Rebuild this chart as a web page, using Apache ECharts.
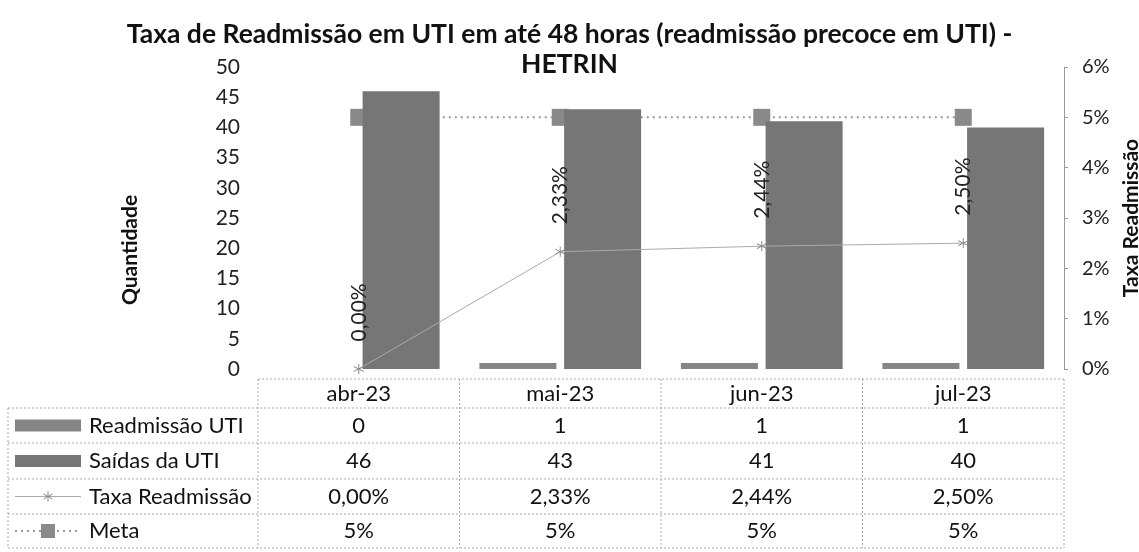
<!DOCTYPE html>
<html>
<head>
<meta charset="utf-8">
<script src="https://cdn.jsdelivr.net/npm/echarts@6/dist/echarts.min.js"></script>
<style>
  html, body { margin: 0; padding: 0; background: #fff; }
  #chart { width: 1139px; height: 552px; }
</style>
</head>
<body>
<div id="chart"></div>
<script>
// dados do gráfico
const categories = ['abr-23', 'mai-23', 'jun-23', 'jul-23'];
const readmissao = [0, 1, 1, 1];
const saidas = [46, 43, 41, 40];
const taxa = [0, 2.33, 2.44, 2.50];   // em %
const meta = [5, 5, 5, 5];            // em %

const FONT = 'Lato, "Open Sans", sans-serif';
const fmtPct = v => v.toFixed(2).replace('.', ',') + '%';
const asterisk = 'path://M5,0L5,10M0.7,2.5L9.3,7.5M0.7,7.5L9.3,2.5';

var chart = echarts.init(document.getElementById('chart'));
var option = {
    backgroundColor: '#fff',
    animation: false,
    title: {
        text: 'Taxa de Readmissão em UTI em até 48 horas (readmissão precoce em UTI) -\nHETRIN',
        left: 'center',
        top: 14,
        textStyle: { fontFamily: FONT, fontSize: 26.5, fontWeight: 'bold', color: '#111', lineHeight: 30 }
    },
    grid: { left: 258, right: 75, top: 67, bottom: 183, outerBoundsMode: 'none', containLabel: false },
    xAxis: {
        type: 'category',
        data: categories,
        axisLine: { show: false },
        axisTick: { show: false },
        axisLabel: { show: false }
    },
    yAxis: [
        {
            type: 'value', min: 0, max: 50, interval: 5,
            axisLine: { show: false }, axisTick: { show: false },
            splitLine: { show: false },
            axisLabel: { fontFamily: FONT, fontSize: 21, color: '#222', margin: 18 }
        },
        {
            type: 'value', min: 0, max: 6, interval: 1,
            position: 'right',
            name: 'Taxa Readmissão',
            nameLocation: 'middle',
            nameGap: 53,
            nameRotate: 90,
            nameTextStyle: { fontFamily: FONT, fontSize: 21, fontWeight: 'bold', color: '#111' },
            axisLine: { show: true, lineStyle: { color: '#999', width: 1 } },
            axisTick: { show: true, length: 4, lineStyle: { color: '#999' } },
            splitLine: { show: false },
            axisLabel: { fontFamily: FONT, fontSize: 20, color: '#222', margin: 18, formatter: '{value}%' }
        }
    ],
    series: [
        {
            name: 'Meta',
            type: 'line',
            yAxisIndex: 1,
            data: meta,
            symbol: 'rect',
            symbolSize: 17,
            lineStyle: { color: '#999', width: 2, type: [2, 4] },
            itemStyle: { color: '#8a8a8a' },
            z: 1
        },
        {
            name: 'Readmissão UTI',
            type: 'bar',
            data: readmissao,
            barWidth: 77,
            barGap: '10%',
            itemStyle: { color: '#858585' },
            z: 2
        },
        {
            name: 'Saídas da UTI',
            type: 'bar',
            data: saidas,
            barWidth: 77,
            barGap: '10%',
            itemStyle: { color: '#767676' },
            z: 2
        },
        {
            name: 'Taxa Readmissão',
            type: 'line',
            yAxisIndex: 1,
            data: taxa,
            symbol: asterisk,
            symbolSize: 10,
            lineStyle: { color: '#aaa', width: 1 },
            itemStyle: { color: 'none', borderColor: '#888', borderWidth: 1 },
            label: {
                show: true,
                position: 'top',
                rotate: 90,
                align: 'left',
                verticalAlign: 'middle',
                distance: 20,
                fontFamily: FONT,
                fontSize: 21,
                color: '#222',
                formatter: p => fmtPct(p.value)
            },
            z: 5
        }
    ]
};
chart.setOption(option);

// tabela de dados abaixo do gráfico (Excel data table)
function buildTable() {
    const xs = categories.map((c, i) => chart.convertToPixel({ xAxisIndex: 0 }, i));
    const band = xs[1] - xs[0];
    const colLeft = xs[0] - band / 2;
    const colRight = xs[xs.length - 1] + band / 2;
    const legLeft = 8;
    const rowY = [379, 408, 443, 479, 514, 548];
    const border = { stroke: '#aaa', lineWidth: 1, lineDash: [2, 2] };
    const txt = { fontFamily: FONT, fontSize: 22, fill: '#111', verticalAlign: 'middle' };
    const els = [];
    const hline = (x1, x2, y, style) => els.push({ type: 'line', shape: { x1, y1: y, x2, y2: y }, style: style || border, silent: true });
    const vline = (x, y1, y2) => els.push({ type: 'line', shape: { x1: x, y1, x2: x, y2 }, style: border, silent: true });

    hline(colLeft, colRight, rowY[0]);
    for (let r = 1; r < rowY.length; r++) hline(legLeft, colRight, rowY[r]);
    vline(legLeft, rowY[1], rowY[5]);
    for (let i = 0; i <= categories.length; i++) vline(colLeft + i * band, rowY[0], rowY[5]);

    const rows = [
        { name: 'Readmissão UTI', vals: readmissao.map(String) },
        { name: 'Saídas da UTI', vals: saidas.map(String) },
        { name: 'Taxa Readmissão', vals: taxa.map(fmtPct) },
        { name: 'Meta', vals: meta.map(v => v + '%') }
    ];
    categories.forEach((c, i) => {
        els.push({ type: 'text', x: xs[i], y: (rowY[0] + rowY[1]) / 2, style: Object.assign({ text: c, align: 'center' }, txt) });
    });
    rows.forEach((row, r) => {
        const cy = (rowY[r + 1] + rowY[r + 2]) / 2;
        els.push({ type: 'text', x: 89, y: cy, style: Object.assign({ text: row.name, align: 'left' }, txt) });
        row.vals.forEach((v, i) => {
            els.push({ type: 'text', x: xs[i], y: cy, style: Object.assign({ text: v, align: 'center' }, txt) });
        });
        // chaves da legenda
        if (r < 2) {
            els.push({ type: 'rect', shape: { x: 15, y: cy - 6, width: 66, height: 12 }, style: { fill: r === 0 ? '#858585' : '#767676' } });
        } else if (r === 2) {
            hline(15, 81, cy, { stroke: '#aaa', lineWidth: 1 });
            const ax = 48, s = { stroke: '#888', lineWidth: 1 };
            els.push({ type: 'line', shape: { x1: ax, y1: cy - 5, x2: ax, y2: cy + 5 }, style: s });
            els.push({ type: 'line', shape: { x1: ax - 4.3, y1: cy - 2.5, x2: ax + 4.3, y2: cy + 2.5 }, style: s });
            els.push({ type: 'line', shape: { x1: ax - 4.3, y1: cy + 2.5, x2: ax + 4.3, y2: cy - 2.5 }, style: s });
        } else {
            hline(15, 81, cy, { stroke: '#999', lineWidth: 2, lineDash: [2, 4] });
            els.push({ type: 'rect', shape: { x: 41, y: cy - 7, width: 14, height: 14 }, style: { fill: '#8a8a8a' } });
        }
    });

    // título do eixo esquerdo
    els.push({
        type: 'text', x: 130, y: 250, rotation: Math.PI / 2,
        style: { text: 'Quantidade', fontFamily: FONT, fontSize: 21, fontWeight: 'bold', fill: '#111', align: 'center', verticalAlign: 'middle' }
    });
    return els;
}
chart.setOption({ graphic: buildTable() });

window.addEventListener('resize', () => {
    chart.resize();
    chart.setOption({ graphic: buildTable() }, { replaceMerge: ['graphic'] });
});
</script>
</body>
</html>
